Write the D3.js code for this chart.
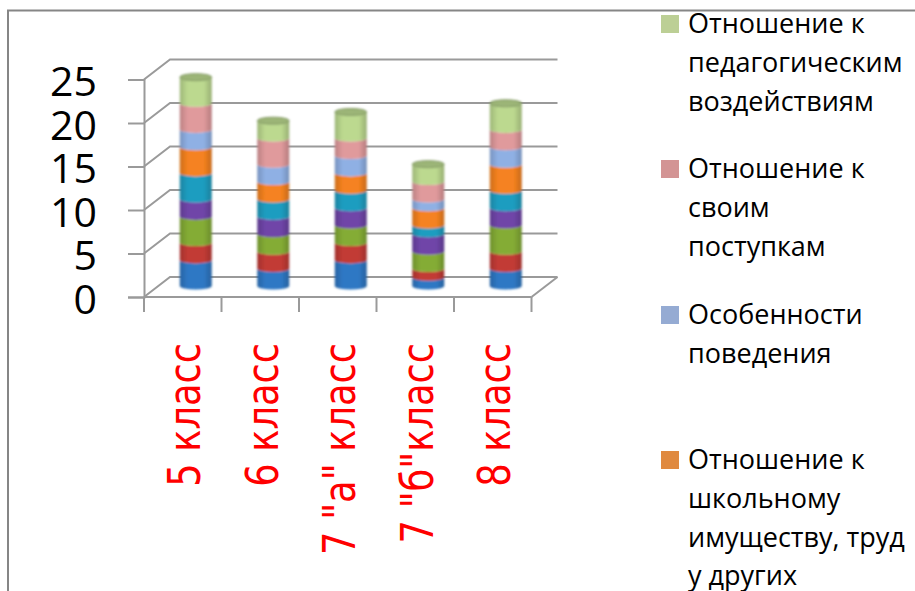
<!DOCTYPE html>
<html lang="ru">

<head>
    <meta charset="UTF-8">
    <title>Классы</title>
    <script src="https://d3js.org/d3.v7.min.js"></script>
    <style>
        body,
        html {
            margin: 0;
            padding: 0;
            width: 100%;
            height: 100%;
            overflow: hidden;
            background: #fff;
        }

        svg {
            display: block;
        }

        .y-label {
            font-family: "Open Sans", sans-serif;
            font-size: 41px;
            fill: #000;
        }

        .cat-label {
            font-family: "DejaVu Sans", sans-serif;
            font-stretch: condensed;
            font-size: 44px;
            fill: #ff0000;
        }

        .legend-label {
            font-family: "Open Sans", sans-serif;
            font-size: 27px;
            fill: #000;
        }
    </style>
</head>

<body>
    <svg id="chart" width="915" height="591"></svg>

    <script>
        const classes = ['5 класс', '6 класс', '7 "а" класс', '7 "б"класс', '8 класс'];

        // bottom to top of each column
        const s1 = [3, 2, 3, 1, 2];
        const s2 = [2, 2, 2, 1, 2];
        const s3 = [3, 2, 2, 2, 3];
        const s4 = [2, 2, 2, 2, 2];
        const s5 = [3, 2, 2, 1, 2];
        const s6 = [3, 2, 2, 2, 3];
        const s7 = [2, 2, 2, 1, 2];
        const s8 = [3, 3, 2, 2, 2];
        const s9 = [3, 2, 3, 2, 3];
        const seriesValues = [s1, s2, s3, s4, s5, s6, s7, s8, s9];
        const seriesColors = ['#2f78c4', '#c23b35', '#84ac35', '#6f45a8', '#1f9dc0', '#f58220', '#8fb0e4', '#e09a9c', '#bcd98f'];

        const yTicks = [0, 5, 10, 15, 20, 25];

        const legendColors = ['#bccf95', '#d39494', '#95abd3', '#e08a40'];
        const legendLines = [
            ['Отношение к', 'педагогическим', 'воздействиям'],
            ['Отношение к', 'своим', 'поступкам'],
            ['Особенности', 'поведения'],
            ['Отношение к', 'школьному', 'имуществу, труд', 'у других']
        ];
        const legendTops = [15, 160, 306, 451];

        const svg = d3.select('#chart');
        const gridColor = '#9a9a9a';
        const depthX = 26, depthY = 20;

        const x = d3.scaleBand().domain(classes).range([144, 531.5]);
        const y = d3.scaleLinear().domain([0, 25]).range([297, 79.5]);

        const defs = svg.append('defs');
        defs.append('filter').attr('id', 'soft')
            .attr('x', '-10%').attr('width', '120%')
            .append('feGaussianBlur').attr('stdDeviation', 1.1);

        // side shading for the cylinders
        seriesColors.forEach((c, i) => {
            const g = defs.append('linearGradient').attr('id', 'side' + i);
            g.append('stop').attr('offset', '0%').attr('stop-color', d3.color(c).darker(0.5));
            g.append('stop').attr('offset', '25%').attr('stop-color', c);
            g.append('stop').attr('offset', '75%').attr('stop-color', c);
            g.append('stop').attr('offset', '100%').attr('stop-color', d3.color(c).darker(0.6));
        });

        // outer frame
        svg.append('path')
            .attr('d', 'M8,591V10.5H915')
            .attr('fill', 'none')
            .attr('stroke', '#868686')
            .attr('stroke-width', 2);

        // back wall grid
        const grid = svg.append('g').attr('fill', 'none').attr('stroke', gridColor).attr('stroke-width', 2);
        yTicks.forEach(t => {
            grid.append('path')
                .attr('d', `M${x.range()[0]},${y(t)}l${depthX},${-depthY}H${x.range()[1] + depthX}`);
        });
        grid.append('path')
            .attr('d', `M${x.range()[1]},${y(0)}l${depthX},${-depthY}`);

        // axes
        const yAxis = svg.append('g')
            .attr('transform', `translate(${x.range()[0]},0)`)
            .call(d3.axisLeft(y).tickValues(yTicks).tickSize(16).tickPadding(31));
        yAxis.select('.domain').attr('stroke', gridColor).attr('stroke-width', 2);
        yAxis.selectAll('.tick line').attr('stroke', gridColor).attr('stroke-width', 2);
        yAxis.selectAll('.tick text').attr('class', 'y-label').attr('dy', '0.4em');

        const baseTicks = x.domain().map(d => x(d)).concat(x.range()[1]);
        const xAxis = svg.append('g').attr('stroke', gridColor).attr('stroke-width', 2);
        xAxis.append('line')
            .attr('x1', x.range()[0]).attr('x2', x.range()[1])
            .attr('y1', y(0)).attr('y2', y(0));
        baseTicks.forEach(px => {
            xAxis.append('line')
                .attr('x1', px).attr('x2', px)
                .attr('y1', y(0)).attr('y2', y(0) + 15);
        });

        // stacked cylinders
        const rows = classes.map((c, i) => {
            const row = { name: c };
            seriesValues.forEach((s, k) => { row['s' + k] = s[i]; });
            return row;
        });
        const stacked = d3.stack().keys(seriesValues.map((s, k) => 's' + k))(rows);

        const rx = 16, ry = 3.5, lift = 11, shiftX = 13;
        const bars = svg.append('g').attr('filter', 'url(#soft)');

        stacked.forEach((layer, k) => {
            bars.selectAll(null)
                .data(layer)
                .enter().append('path')
                .attr('fill', `url(#side${k})`)
                .attr('d', d => {
                    const cx = x(d.data.name) + x.bandwidth() / 2 + shiftX;
                    const y0 = y(d[0]) - lift, y1 = y(d[1]) - lift;
                    return `M${cx - rx},${y1}V${y0}A${rx},${ry} 0 0 0 ${cx + rx},${y0}V${y1}A${rx},${ry} 0 0 1 ${cx - rx},${y1}Z`;
                });
        });

        // cap on top of each column
        bars.selectAll(null)
            .data(stacked[stacked.length - 1])
            .enter().append('ellipse')
            .attr('cx', d => x(d.data.name) + x.bandwidth() / 2 + shiftX)
            .attr('cy', d => y(d[1]) - lift)
            .attr('rx', rx)
            .attr('ry', ry)
            .attr('fill', '#9cb577')
            .attr('stroke', '#7f9660');

        // category labels, squeezed a bit along the text
        svg.selectAll('.cat-label')
            .data(classes)
            .enter().append('text')
            .attr('class', 'cat-label')
            .attr('text-anchor', 'end')
            .attr('transform', d => `translate(${x(d) + x.bandwidth() / 2 + 17.5},343) rotate(-90) scale(0.93,1)`)
            .text(d => d);

        // legend
        const legend = svg.selectAll('.legend')
            .data(legendLines)
            .enter().append('g')
            .attr('class', 'legend')
            .attr('transform', (d, i) => `translate(661,${legendTops[i]})`);
        legend.append('rect')
            .attr('width', 18)
            .attr('height', 18)
            .attr('fill', (d, i) => legendColors[i]);
        legend.each(function (lines) {
            d3.select(this).selectAll('text')
                .data(lines)
                .enter().append('text')
                .attr('class', 'legend-label')
                .attr('x', 27)
                .attr('y', (d, i) => 18 + i * 38.8)
                .text(d => d);
        });
    </script>
</body>

</html>
